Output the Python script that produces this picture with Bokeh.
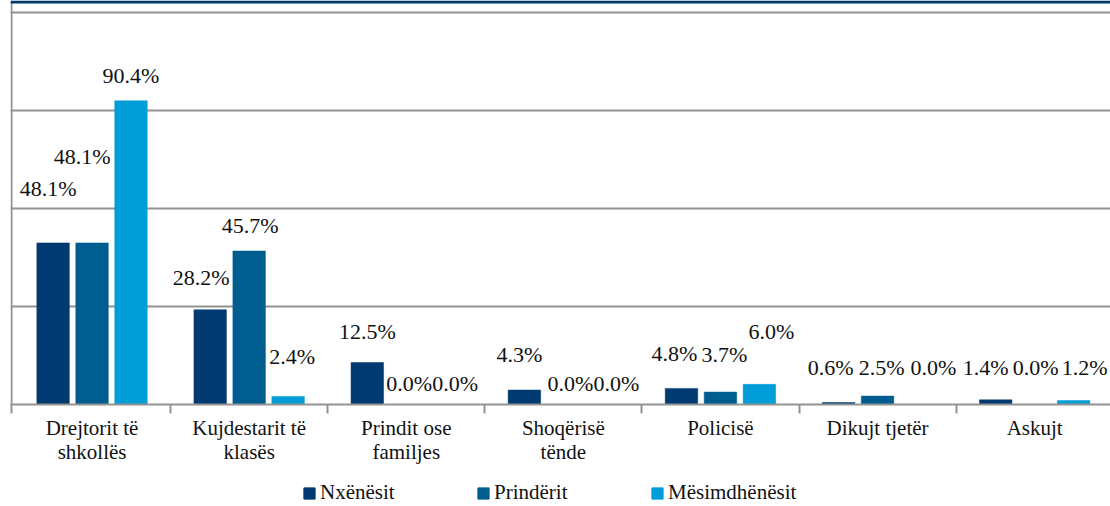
from bokeh.plotting import figure
from bokeh.models import (ColumnDataSource, Range1d, FixedTicker, LabelSet, Span,
                          Legend, LegendItem, Grid, LinearAxis, BoxAnnotation)
from bokeh.layouts import column
from bokeh.embed import file_html
from bokeh.resources import INLINE
from bokeh.core.properties import value

# ---------------- data ----------------
categories = ["Drejtorit të\nshkollës", "Kujdestarit të\nklasës", "Prindit ose\nfamiljes",
              "Shoqërisë\ntënde", "Policisë", "Dikujt tjetër", "Askujt"]
series_names = ["Nxënësit", "Prindërit", "Mësimdhënësit"]
nxenesit = [48.1, 28.2, 12.5, 4.3, 4.8, 0.6, 1.4]
prinderit = [48.1, 45.7, 0.0, 0.0, 3.7, 2.5, 0.0]
mesimdhenesit = [90.4, 2.4, 0.0, 0.0, 6.0, 0.0, 1.2]

# manual label nudges of the original chart (screen px, relative to bar top)
label_dx = [[-5, -9, 0, -5, -7, -8, -10],
            [-10, 1, 3, 7, 4, 4, 1],
            [0, 4, 10, 14, 12, 17, 11]]
label_dy = [[54, 32, 31, 36, 35, 35, 32],
            [86, 25, 21, 21, 38, 29, 37],
            [25, 40, 21, 21, 53, 37, 33]]

# ---------------- style / geometry ----------------
colors = ["#003A70", "#005D8F", "#009DD9"]
HEADER = "#003A70"
FONT = "Liberation Serif"
GRID = "#939393"
TXT = "#111111"
W, H_MAIN, H_LEG = 1110, 470, 36
LEFT = 10            # frame left (px)
FRAME_H = 404        # frame height (px), frame top at figure top
CW = 157.1           # category width (px)
PLOT_H = 392         # px from baseline to top gridline
Y_MAX = 116.7        # value at top gridline
ppu = PLOT_H / Y_MAX
x_start = -3 / CW
x_end = x_start + (W - LEFT) / CW
y_end = FRAME_H / ppu
n = len(categories)
offsets = [-0.248, 0.0, 0.248]
bar_w = 0.207

p = figure(width=W, height=H_MAIN, output_backend="svg", toolbar_location=None,
           x_range=Range1d(x_start, x_end), y_range=Range1d(0, y_end),
           y_axis_location=None, min_border_left=LEFT, min_border_right=0,
           min_border_top=0, min_border_bottom=H_MAIN - FRAME_H)
p.outline_line_color = None
p.xgrid.visible = False
p.ygrid.visible = False

ygrid = Grid(dimension=1, ticker=FixedTicker(ticks=[Y_MAX * k / 4 for k in range(5)]),
             grid_line_color=GRID, grid_line_width=2)
p.add_layout(ygrid)
p.add_layout(Span(location=x_start + 1 / CW, dimension="height", line_color=GRID, line_width=2))
p.add_layout(BoxAnnotation(bottom=y_end - 3 / ppu, fill_color=HEADER, fill_alpha=1,
                           line_color=None, level="overlay"))

values_all = [nxenesit, prinderit, mesimdhenesit]
renderers = []
for s, vals in enumerate(values_all):
    xs = [i + 0.5 + offsets[s] for i in range(n)]
    src = ColumnDataSource(dict(
        x=xs, top=vals,
        txt=[f"{v:.1f}%" for v in vals],
        dx=label_dx[s], dy=label_dy[s]))
    r = p.vbar(x="x", top="top", width=bar_w, source=src,
               fill_color=colors[s], line_color=colors[s], line_width=0.5)
    renderers.append(r)
    p.add_layout(LabelSet(x="x", y="top", text="txt", source=src,
                          x_offset="dx", y_offset="dy",
                          text_font=value(FONT), text_font_size="22px",
                          text_color=TXT, text_align="center",
                          text_baseline="middle"))

line1 = [c.split("\n")[0] for c in categories]
line2 = [c.split("\n")[1] if "\n" in c else "" for c in categories]

ax = p.xaxis[0]
ax.ticker = FixedTicker(ticks=[i + 0.5 for i in range(n)],
                        minor_ticks=[x_start + 1 / CW] + list(range(1, n + 1)))
ax.major_label_overrides = {i + 0.5: t for i, t in enumerate(line1)}
ax.axis_line_color = GRID
ax.axis_line_width = 2
ax.major_tick_line_color = None
ax.major_tick_out = 0
ax.major_tick_in = 0
ax.minor_tick_line_color = GRID
ax.minor_tick_line_width = 2
ax.minor_tick_out = 9
ax.minor_tick_in = 0
ax.major_label_text_font = FONT
ax.major_label_text_font_size = "21px"
ax.major_label_text_color = TXT
ax.major_label_standoff = 2

ticks2 = [i + 0.5 for i in range(n) if line2[i]]
ax2 = LinearAxis(ticker=FixedTicker(ticks=ticks2, minor_ticks=[]),
                 major_label_overrides={i + 0.5: line2[i] for i in range(n) if line2[i]},
                 axis_line_color=None, major_tick_line_color=None, minor_tick_line_color=None,
                 major_tick_out=0, major_tick_in=0, minor_tick_out=0, minor_tick_in=0,
                 major_label_standoff=-3, major_label_text_font=FONT,
                 major_label_text_font_size="21px", major_label_text_color=TXT)
p.add_layout(ax2, "below")

# ---------------- legend strip ----------------
pl = figure(width=W, height=H_LEG, output_backend="svg", toolbar_location=None,
            x_range=Range1d(0, 1), y_range=Range1d(0, 1),
            x_axis_location=None, y_axis_location=None,
            min_border_left=0, min_border_right=0, min_border_top=0, min_border_bottom=0)
pl.outline_line_color = None
pl.xgrid.visible = False
pl.ygrid.visible = False
# legend swatch proxies (one point each, outside the visible range of the strip)
leg_renderers = [pl.vbar(x=[5.0], top=[1.0], width=0.1, fill_color=colors[s], line_color=colors[s])
                 for s in range(3)]
legend = Legend(items=[LegendItem(label=series_names[s], renderers=[leg_renderers[s]]) for s in range(3)],
                orientation="horizontal", location=(292, 1),
                glyph_width=14, glyph_height=14, label_standoff=4, label_width=152,
                spacing=4, padding=0, margin=0,
                label_text_font=FONT, label_text_font_size="21px", label_text_color=TXT,
                border_line_color=None, background_fill_alpha=0)
pl.add_layout(legend)

layout = column(p, pl, spacing=0)
open("out.html", "w").write(file_html(layout, INLINE))
